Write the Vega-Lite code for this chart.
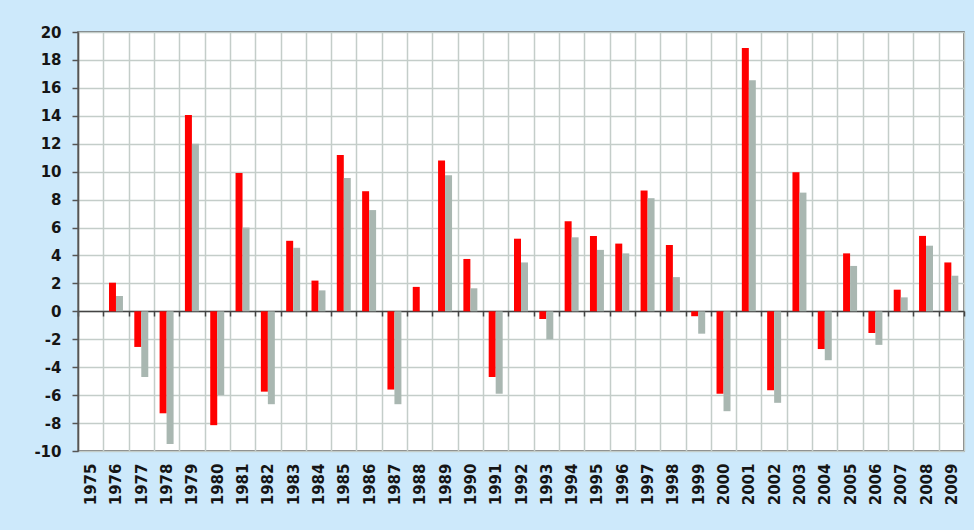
{
  "$schema": "https://vega.github.io/schema/vega-lite/v6.json",
  "width": 886,
  "height": 419,
  "autosize": {"type": "none"},
  "padding": {"left": 78, "top": 32, "right": 10, "bottom": 79},
  "background": "#cde9fb",
  "config": {
    "font": "DejaVu Sans",
    "view": {"fill": "white", "stroke": "#555555", "strokeWidth": 1.5}
  },
  "data": {
    "values": [
      {"year": 1976, "series": "A", "value": 2.05}, {"year": 1976, "series": "B", "value": 1.1},
      {"year": 1977, "series": "A", "value": -2.55}, {"year": 1977, "series": "B", "value": -4.7},
      {"year": 1978, "series": "A", "value": -7.3}, {"year": 1978, "series": "B", "value": -9.5},
      {"year": 1979, "series": "A", "value": 14.05}, {"year": 1979, "series": "B", "value": 12.0},
      {"year": 1980, "series": "A", "value": -8.15}, {"year": 1980, "series": "B", "value": -6.0},
      {"year": 1981, "series": "A", "value": 9.9}, {"year": 1981, "series": "B", "value": 6.0},
      {"year": 1982, "series": "A", "value": -5.75}, {"year": 1982, "series": "B", "value": -6.65},
      {"year": 1983, "series": "A", "value": 5.05}, {"year": 1983, "series": "B", "value": 4.55},
      {"year": 1984, "series": "A", "value": 2.2}, {"year": 1984, "series": "B", "value": 1.5},
      {"year": 1985, "series": "A", "value": 11.2}, {"year": 1985, "series": "B", "value": 9.55},
      {"year": 1986, "series": "A", "value": 8.6}, {"year": 1986, "series": "B", "value": 7.25},
      {"year": 1987, "series": "A", "value": -5.6}, {"year": 1987, "series": "B", "value": -6.65},
      {"year": 1988, "series": "A", "value": 1.75},
      {"year": 1989, "series": "A", "value": 10.8}, {"year": 1989, "series": "B", "value": 9.75},
      {"year": 1990, "series": "A", "value": 3.75}, {"year": 1990, "series": "B", "value": 1.65},
      {"year": 1991, "series": "A", "value": -4.7}, {"year": 1991, "series": "B", "value": -5.9},
      {"year": 1992, "series": "A", "value": 5.2}, {"year": 1992, "series": "B", "value": 3.5},
      {"year": 1993, "series": "A", "value": -0.55}, {"year": 1993, "series": "B", "value": -2.0},
      {"year": 1994, "series": "A", "value": 6.45}, {"year": 1994, "series": "B", "value": 5.3},
      {"year": 1995, "series": "A", "value": 5.4}, {"year": 1995, "series": "B", "value": 4.4},
      {"year": 1996, "series": "A", "value": 4.85}, {"year": 1996, "series": "B", "value": 4.15},
      {"year": 1997, "series": "A", "value": 8.65}, {"year": 1997, "series": "B", "value": 8.1},
      {"year": 1998, "series": "A", "value": 4.75}, {"year": 1998, "series": "B", "value": 2.45},
      {"year": 1999, "series": "A", "value": -0.35}, {"year": 1999, "series": "B", "value": -1.6},
      {"year": 2000, "series": "A", "value": -5.9}, {"year": 2000, "series": "B", "value": -7.15},
      {"year": 2001, "series": "A", "value": 18.85}, {"year": 2001, "series": "B", "value": 16.55},
      {"year": 2002, "series": "A", "value": -5.65}, {"year": 2002, "series": "B", "value": -6.55},
      {"year": 2003, "series": "A", "value": 9.95}, {"year": 2003, "series": "B", "value": 8.5},
      {"year": 2004, "series": "A", "value": -2.7}, {"year": 2004, "series": "B", "value": -3.5},
      {"year": 2005, "series": "A", "value": 4.15}, {"year": 2005, "series": "B", "value": 3.25},
      {"year": 2006, "series": "A", "value": -1.55}, {"year": 2006, "series": "B", "value": -2.4},
      {"year": 2007, "series": "A", "value": 1.55}, {"year": 2007, "series": "B", "value": 1.0},
      {"year": 2008, "series": "A", "value": 5.4}, {"year": 2008, "series": "B", "value": 4.7},
      {"year": 2009, "series": "A", "value": 3.5}, {"year": 2009, "series": "B", "value": 2.55}
    ]
  },
  "resolve": {"axis": {"x": "independent"}},
  "layer": [
    {
      "mark": {"type": "bar"},
      "encoding": {
        "x": {
          "field": "year",
          "type": "ordinal",
          "scale": {
            "domain": [1975,1976,1977,1978,1979,1980,1981,1982,1983,1984,1985,1986,1987,1988,1989,1990,1991,1992,1993,1994,1995,1996,1997,1998,1999,2000,2001,2002,2003,2004,2005,2006,2007,2008,2009],
            "paddingInner": 0,
            "paddingOuter": 0
          },
          "axis": {
            "title": null,
            "orient": "bottom",
            "domain": false,
            "ticks": false,
            "grid": true,
            "tickBand": "extent",
            "gridColor": "#c4cdc9",
            "gridWidth": 1.5,
            "labelAngle": 270,
            "labelFontSize": 15,
            "labelFontWeight": "bold",
            "labelColor": "#151515",
            "labelPadding": 12
          }
        },
        "xOffset": {
          "field": "series",
          "sort": ["A", "B"],
          "scale": {"paddingInner": 0, "paddingOuter": 0.81}
        },
        "y": {
          "field": "value",
          "type": "quantitative",
          "scale": {"domain": [-10, 20], "nice": false},
          "axis": {
            "title": null,
            "values": [-10,-8,-6,-4,-2,0,2,4,6,8,10,12,14,16,18,20],
            "labelExpr": "datum.value < 0 ? '-' + abs(datum.value) : '' + datum.value",
            "labelOverlap": false,
            "labelBound": false,
            "labelFlush": false,
            "grid": true,
            "gridColor": "#c4cdc9",
            "gridWidth": 1.5,
            "domainColor": "#555555",
            "domainWidth": 1.5,
            "tickColor": "#555555",
            "tickSize": 6,
            "tickWidth": 1.5,
            "labelFontSize": 15,
            "labelFontWeight": "bold",
            "labelColor": "#151515",
            "labelPadding": 11
          }
        },
        "color": {
          "field": "series",
          "scale": {"domain": ["A", "B"], "range": ["#ff0000", "#a9b7b1"]},
          "legend": null
        }
      }
    },
    {
      "mark": {"type": "tick", "opacity": 0},
      "encoding": {
        "x": {
          "field": "year",
          "type": "ordinal",
          "axis": {
            "title": null,
            "orient": "bottom",
            "offset": -140,
            "labels": false,
            "domain": true,
            "domainColor": "#444444",
            "domainWidth": 1.5,
            "grid": false,
            "ticks": true,
            "tickBand": "extent",
            "tickSize": 5,
            "tickColor": "#444444",
            "tickWidth": 1.5
          }
        }
      }
    }
  ]
}
